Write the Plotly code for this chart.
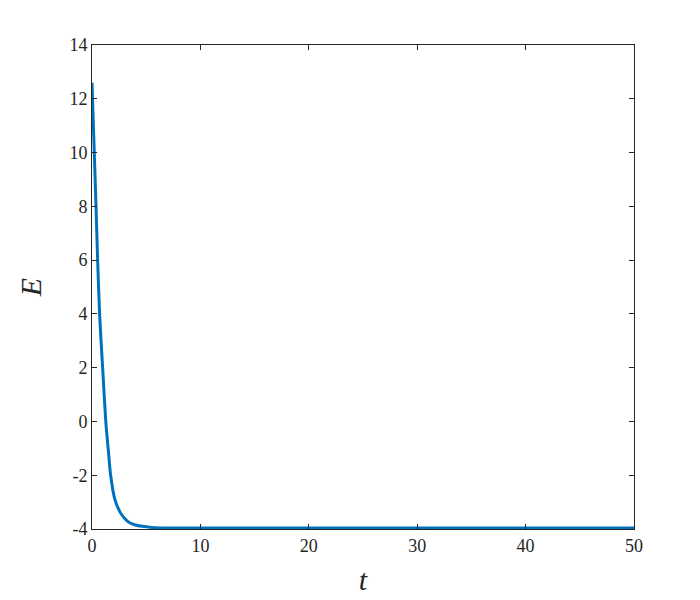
import plotly.graph_objects as go

# energy decay
t = [0, 0.21, 0.37, 0.52, 0.7, 0.98, 1.27, 1.5, 1.72, 2.11, 2.63, 3.0, 3.4, 4.0, 4.6, 5.5, 7.0, 50]
E = [12.6, 10, 8, 6, 4, 2, 0, -1.05, -2, -2.9, -3.4, -3.6, -3.75, -3.85, -3.9, -3.94, -3.96, -3.96]

x_ticks = [0, 10, 20, 30, 40, 50]
y_ticks = [-4, -2, 0, 2, 4, 6, 8, 10, 12, 14]
y_labels = ['-4', '-2', '0', '2', '4', '6', '8', '10', '12', '14']

fig = go.Figure()
fig.add_trace(go.Scatter(
    x=t, y=E, mode='lines',
    line=dict(color='#0072BD', width=3, shape='spline', smoothing=0.6),
    showlegend=False
))

axis_style = dict(
    showline=True, linecolor='#262626', linewidth=1,
    mirror='ticks', ticks='inside', ticklen=5, tickcolor='#262626',
    showgrid=False, zeroline=False,
    tickfont=dict(family='Liberation Serif', size=18, color='#262626'),
)

fig.update_layout(
    width=700, height=600,
    paper_bgcolor='white', plot_bgcolor='white',
    margin=dict(l=84, r=74, t=37, b=79),
    xaxis=dict(range=[0, 50], tickvals=x_ticks,
               title=dict(text='<i>t</i>', standoff=14,
                          font=dict(family='Liberation Serif', size=30, color='#262626')),
               **axis_style),
    yaxis=dict(range=[-4, 14], tickvals=y_ticks, ticktext=y_labels,
               title=dict(text='<i>E</i>', standoff=18,
                          font=dict(family='Liberation Serif', size=30, color='#262626')),
               **axis_style),
)

fig.write_html("out.html")
